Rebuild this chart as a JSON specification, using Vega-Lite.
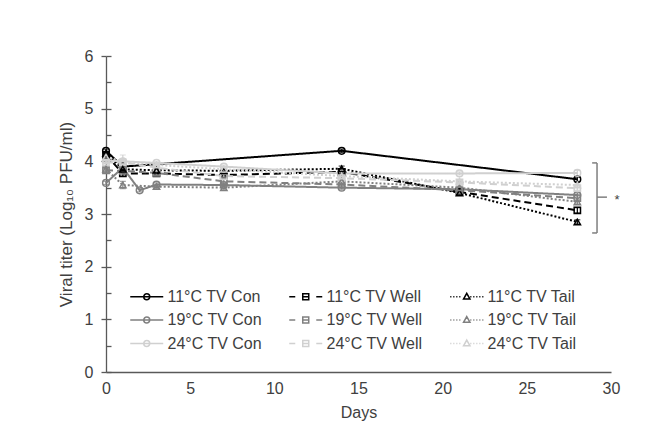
{
  "$schema": "https://vega.github.io/schema/vega-lite/v6.json",
  "width": 505,
  "height": 316,
  "autosize": {"type": "none"},
  "padding": {"left": 106, "top": 56, "right": 37, "bottom": 49},
  "background": "white",
  "config": {
    "view": {"stroke": null},
    "font": "Liberation Sans",
    "axis": {"grid": false, "domainColor": "#595959", "domainWidth": 1.3, "tickColor": "#595959", "tickWidth": 1.3, "labelColor": "#404040", "titleColor": "#404040", "labelFontSize": 16, "titleFontSize": 16, "titleFontWeight": "normal", "labelFont": "Liberation Sans", "titleFont": "Liberation Sans"}
  },
  "datasets": {
    "main": [
      {"s": "11°C TV Con", "t": "Con", "d": 0, "v": 4.2, "e": 0.03},
      {"s": "11°C TV Con", "t": "Con", "d": 1, "v": 3.9, "e": 0.03},
      {"s": "11°C TV Con", "t": "Con", "d": 14, "v": 4.2, "e": 0.03},
      {"s": "11°C TV Con", "t": "Con", "d": 28, "v": 3.66, "e": 0.04},
      {"s": "11°C TV Well", "t": "Well", "d": 0, "v": 4.12, "e": 0.04},
      {"s": "11°C TV Well", "t": "Well", "d": 1, "v": 3.77, "e": 0.05},
      {"s": "11°C TV Well", "t": "Well", "d": 3, "v": 3.77, "e": 0.03},
      {"s": "11°C TV Well", "t": "Well", "d": 7, "v": 3.74, "e": 0.03},
      {"s": "11°C TV Well", "t": "Well", "d": 14, "v": 3.8, "e": 0.03},
      {"s": "11°C TV Well", "t": "Well", "d": 21, "v": 3.42, "e": 0.03},
      {"s": "11°C TV Well", "t": "Well", "d": 28, "v": 3.07, "e": 0.05},
      {"s": "11°C TV Tail", "t": "Tail", "d": 0, "v": 4.15, "e": 0.04},
      {"s": "11°C TV Tail", "t": "Tail", "d": 1, "v": 3.85, "e": 0.03},
      {"s": "11°C TV Tail", "t": "Tail", "d": 3, "v": 3.83, "e": 0.03},
      {"s": "11°C TV Tail", "t": "Tail", "d": 7, "v": 3.82, "e": 0.03},
      {"s": "11°C TV Tail", "t": "Tail", "d": 14, "v": 3.86, "e": 0.05},
      {"s": "11°C TV Tail", "t": "Tail", "d": 21, "v": 3.4, "e": 0.03},
      {"s": "11°C TV Tail", "t": "Tail", "d": 28, "v": 2.85, "e": 0.04},
      {"s": "19°C TV Con", "t": "Con", "d": 0, "v": 3.59, "e": 0.03},
      {"s": "19°C TV Con", "t": "Con", "d": 1, "v": 3.88, "e": 0.03},
      {"s": "19°C TV Con", "t": "Con", "d": 2, "v": 3.45, "e": 0.03},
      {"s": "19°C TV Con", "t": "Con", "d": 3, "v": 3.56, "e": 0.03},
      {"s": "19°C TV Con", "t": "Con", "d": 7, "v": 3.55, "e": 0.03},
      {"s": "19°C TV Con", "t": "Con", "d": 14, "v": 3.5, "e": 0.03},
      {"s": "19°C TV Con", "t": "Con", "d": 21, "v": 3.47, "e": 0.03},
      {"s": "19°C TV Con", "t": "Con", "d": 28, "v": 3.36, "e": 0.04},
      {"s": "19°C TV Well", "t": "Well", "d": 0, "v": 3.83, "e": 0.04},
      {"s": "19°C TV Well", "t": "Well", "d": 1, "v": 3.82, "e": 0.04},
      {"s": "19°C TV Well", "t": "Well", "d": 3, "v": 3.78, "e": 0.04},
      {"s": "19°C TV Well", "t": "Well", "d": 7, "v": 3.62, "e": 0.04},
      {"s": "19°C TV Well", "t": "Well", "d": 14, "v": 3.56, "e": 0.03},
      {"s": "19°C TV Well", "t": "Well", "d": 21, "v": 3.45, "e": 0.03},
      {"s": "19°C TV Well", "t": "Well", "d": 28, "v": 3.3, "e": 0.05},
      {"s": "19°C TV Tail", "t": "Tail", "d": 0, "v": 3.85, "e": 0.03},
      {"s": "19°C TV Tail", "t": "Tail", "d": 1, "v": 3.55, "e": 0.07},
      {"s": "19°C TV Tail", "t": "Tail", "d": 3, "v": 3.52, "e": 0.03},
      {"s": "19°C TV Tail", "t": "Tail", "d": 7, "v": 3.5, "e": 0.03},
      {"s": "19°C TV Tail", "t": "Tail", "d": 14, "v": 3.62, "e": 0.05},
      {"s": "19°C TV Tail", "t": "Tail", "d": 21, "v": 3.5, "e": 0.12},
      {"s": "19°C TV Tail", "t": "Tail", "d": 28, "v": 3.23, "e": 0.04},
      {"s": "24°C TV Con", "t": "Con", "d": 0, "v": 4.02, "e": 0.03},
      {"s": "24°C TV Con", "t": "Con", "d": 1, "v": 4.0, "e": 0.03},
      {"s": "24°C TV Con", "t": "Con", "d": 3, "v": 3.97, "e": 0.03},
      {"s": "24°C TV Con", "t": "Con", "d": 7, "v": 3.9, "e": 0.03},
      {"s": "24°C TV Con", "t": "Con", "d": 14, "v": 3.77, "e": 0.03},
      {"s": "24°C TV Con", "t": "Con", "d": 21, "v": 3.77, "e": 0.03},
      {"s": "24°C TV Con", "t": "Con", "d": 28, "v": 3.78, "e": 0.05},
      {"s": "24°C TV Well", "t": "Well", "d": 0, "v": 3.98, "e": 0.03},
      {"s": "24°C TV Well", "t": "Well", "d": 1, "v": 3.98, "e": 0.03},
      {"s": "24°C TV Well", "t": "Well", "d": 3, "v": 3.88, "e": 0.03},
      {"s": "24°C TV Well", "t": "Well", "d": 7, "v": 3.72, "e": 0.03},
      {"s": "24°C TV Well", "t": "Well", "d": 14, "v": 3.68, "e": 0.03},
      {"s": "24°C TV Well", "t": "Well", "d": 21, "v": 3.6, "e": 0.03},
      {"s": "24°C TV Well", "t": "Well", "d": 28, "v": 3.49, "e": 0.04},
      {"s": "24°C TV Tail", "t": "Tail", "d": 0, "v": 4.08, "e": 0.04},
      {"s": "24°C TV Tail", "t": "Tail", "d": 1, "v": 4.0, "e": 0.12},
      {"s": "24°C TV Tail", "t": "Tail", "d": 3, "v": 3.93, "e": 0.03},
      {"s": "24°C TV Tail", "t": "Tail", "d": 7, "v": 3.85, "e": 0.03},
      {"s": "24°C TV Tail", "t": "Tail", "d": 14, "v": 3.72, "e": 0.03},
      {"s": "24°C TV Tail", "t": "Tail", "d": 21, "v": 3.62, "e": 0.03},
      {"s": "24°C TV Tail", "t": "Tail", "d": 28, "v": 3.55, "e": 0.04}
    ],
    "bracket": [
      {"x": 29.17, "x2": 29.17, "y": 3.97, "y2": 2.64},
      {"x": 28.88, "x2": 29.17, "y": 3.97, "y2": 3.97},
      {"x": 28.88, "x2": 29.17, "y": 2.64, "y2": 2.64},
      {"x": 29.17, "x2": 29.76, "y": 3.32, "y2": 3.32}
    ],
    "star": [{"x": 30.36, "y": 3.3, "label": "*"}]
  },
  "resolve": {"axis": {"y": "independent"}},
  "layer": [
    {
      "data": {"name": "main"},
      "mark": {"type": "line", "strokeWidth": 2, "clip": false},
      "encoding": {
        "x": {"field": "d", "type": "quantitative", "scale": {"domain": [0, 30], "nice": false, "zero": false},
              "axis": {"values": [0, 5, 10, 15, 20, 25, 30], "ticks": false, "labelPadding": 8, "title": "Days", "titlePadding": 8, "labelFlush": false}},
        "y": {"field": "v", "type": "quantitative", "scale": {"domain": [0, 6], "nice": false},
              "axis": {"orient": "left", "values": [0, 1, 2, 3, 4, 5, 6], "tickSize": 5, "labelPadding": 8, "title": "Viral titer (Log₁₀ PFU/ml)", "titleFontSize": 17, "titlePadding": 9}},
        "color": {"field": "s", "type": "nominal",
                  "scale": {"domain": ["11°C TV Con", "11°C TV Well", "11°C TV Tail", "19°C TV Con", "19°C TV Well", "19°C TV Tail", "24°C TV Con", "24°C TV Well", "24°C TV Tail"],
                            "range": ["#000000", "#000000", "#000000", "#808080", "#808080", "#808080", "#d0d0d0", "#d0d0d0", "#d0d0d0"]}},
        "strokeDash": {"field": "t", "type": "nominal", "legend": null,
                  "scale": {"domain": ["Con", "Well", "Tail"], "range": [[1, 0], [7, 4], [2, 2]]}}
      }
    },
    {
      "data": {"name": "main"},
      "transform": [{"filter": {"field": "s", "oneOf": ["11°C TV Con", "11°C TV Well", "11°C TV Tail"]}}],
      "mark": {"type": "errorbar", "ticks": {"size": 6}, "thickness": 1.2, "color": "#000000"},
      "encoding": {
        "x": {"field": "d", "type": "quantitative"},
        "y": {"field": "v", "type": "quantitative", "axis": null},
        "yError": {"field": "e"}
      }
    },
    {
      "data": {"name": "main"},
      "transform": [{"filter": {"field": "s", "oneOf": ["19°C TV Con", "19°C TV Well", "19°C TV Tail"]}}],
      "mark": {"type": "errorbar", "ticks": {"size": 6}, "thickness": 1.2, "color": "#808080"},
      "encoding": {
        "x": {"field": "d", "type": "quantitative"},
        "y": {"field": "v", "type": "quantitative", "axis": null},
        "yError": {"field": "e"}
      }
    },
    {
      "data": {"name": "main"},
      "transform": [{"filter": {"field": "s", "oneOf": ["24°C TV Con", "24°C TV Well", "24°C TV Tail"]}}],
      "mark": {"type": "errorbar", "ticks": {"size": 6}, "thickness": 1.2, "color": "#d0d0d0"},
      "encoding": {
        "x": {"field": "d", "type": "quantitative"},
        "y": {"field": "v", "type": "quantitative", "axis": null},
        "yError": {"field": "e"}
      }
    },
    {
      "data": {"name": "main"},
      "transform": [{"filter": {"field": "t", "equal": "Con"}}],
      "mark": {"type": "point", "shape": "circle", "filled": false, "size": 45, "strokeWidth": 1.5, "opacity": 1},
      "encoding": {
        "x": {"field": "d", "type": "quantitative"},
        "y": {"field": "v", "type": "quantitative", "axis": null},
        "color": {"field": "s", "type": "nominal"}
      }
    },
    {
      "data": {"name": "main"},
      "transform": [{"filter": {"field": "t", "equal": "Well"}}],
      "mark": {"type": "point", "shape": "square", "filled": false, "size": 40, "strokeWidth": 1.5, "opacity": 1},
      "encoding": {
        "x": {"field": "d", "type": "quantitative"},
        "y": {"field": "v", "type": "quantitative", "axis": null},
        "color": {"field": "s", "type": "nominal"}
      }
    },
    {
      "data": {"name": "main"},
      "transform": [{"filter": {"field": "t", "equal": "Tail"}}],
      "mark": {"type": "point", "shape": "triangle-up", "filled": false, "size": 40, "strokeWidth": 1.5, "opacity": 1},
      "encoding": {
        "x": {"field": "d", "type": "quantitative"},
        "y": {"field": "v", "type": "quantitative", "axis": null},
        "color": {"field": "s", "type": "nominal"}
      }
    },
    {
      "data": {"name": "main"},
      "mark": {"type": "point", "filled": false, "opacity": 0},
      "encoding": {
        "x": {"field": "d", "type": "quantitative"},
        "y": {"field": "v", "type": "quantitative", "axis": null},
        "color": {"field": "s", "type": "nominal",
                  "legend": {"orient": "none", "direction": "horizontal", "legendX": 24, "legendY": 228, "columns": 3, "title": null, "symbolSize": 529, "symbolStrokeWidth": 1.5, "labelFontSize": 16, "labelFont": "Liberation Sans", "labelColor": "#404040", "columnPadding": 24, "rowPadding": 2.5, "labelOffset": 12.5, "symbolFillColor": "transparent"}},
        "shape": {"field": "s", "type": "nominal",
                  "scale": {"domain": ["11°C TV Con", "11°C TV Well", "11°C TV Tail", "19°C TV Con", "19°C TV Well", "19°C TV Tail", "24°C TV Con", "24°C TV Well", "24°C TV Tail"],
                            "range": [
                              "M-1.065,0H1.804M0.63,0A0.26,0.26,0,1,1,0.11,0A0.26,0.26,0,1,1,0.63,0",
                              "M-1.065,0H-0.543M1.283,0H1.804M0.11,-0.26H0.63V0.26H0.11ZM0.11,0H0.63",
                              "M-1.065,0h0.1M-0.804,0h0.1M-0.543,0h0.1M-0.283,0h0.1M0.674,0h0.1M0.935,0h0.1M1.196,0h0.1M1.457,0h0.1M1.717,0h0.1M0.37,-0.3L0.65,0.2H0.09Z",
                              "M-1.065,0H1.804M0.63,0A0.26,0.26,0,1,1,0.11,0A0.26,0.26,0,1,1,0.63,0",
                              "M-1.065,0H-0.543M1.283,0H1.804M0.11,-0.26H0.63V0.26H0.11ZM0.11,0H0.63",
                              "M-1.065,0h0.1M-0.804,0h0.1M-0.543,0h0.1M-0.283,0h0.1M0.674,0h0.1M0.935,0h0.1M1.196,0h0.1M1.457,0h0.1M1.717,0h0.1M0.37,-0.3L0.65,0.2H0.09Z",
                              "M-1.065,0H1.804M0.63,0A0.26,0.26,0,1,1,0.11,0A0.26,0.26,0,1,1,0.63,0",
                              "M-1.065,0H-0.543M1.283,0H1.804M0.11,-0.26H0.63V0.26H0.11ZM0.11,0H0.63",
                              "M-1.065,0h0.1M-0.804,0h0.1M-0.543,0h0.1M-0.283,0h0.1M0.674,0h0.1M0.935,0h0.1M1.196,0h0.1M1.457,0h0.1M1.717,0h0.1M0.37,-0.3L0.65,0.2H0.09Z"
                            ]},
                  "legend": {"orient": "none", "direction": "horizontal", "legendX": 24, "legendY": 228, "columns": 3, "title": null, "symbolSize": 529, "symbolStrokeWidth": 1.5, "labelFontSize": 16, "labelFont": "Liberation Sans", "labelColor": "#404040", "columnPadding": 24, "rowPadding": 2.5, "labelOffset": 12.5, "symbolFillColor": "transparent"}}
      }
    },
    {
      "data": {"name": "bracket"},
      "mark": {"type": "rule", "color": "#7f7f7f", "strokeWidth": 1.5},
      "encoding": {
        "x": {"field": "x", "type": "quantitative"},
        "x2": {"field": "x2"},
        "y": {"field": "y", "type": "quantitative", "axis": null},
        "y2": {"field": "y2"}
      }
    },
    {
      "data": {"name": "star"},
      "mark": {"type": "text", "fontSize": 13, "color": "#404040", "align": "center", "baseline": "middle", "dy": 2},
      "encoding": {
        "x": {"field": "x", "type": "quantitative"},
        "y": {"field": "y", "type": "quantitative", "axis": null},
        "text": {"field": "label"}
      }
    },
    {
      "data": {"name": "main"},
      "mark": {"type": "point", "opacity": 0},
      "encoding": {
        "y": {"field": "v", "type": "quantitative",
              "axis": {"orient": "left", "values": [0, 0.5, 1, 1.5, 2, 2.5, 3, 3.5, 4, 4.5, 5, 5.5, 6], "tickSize": -5, "labels": false, "domain": false, "title": null, "grid": false}}
      }
    }
  ]
}
